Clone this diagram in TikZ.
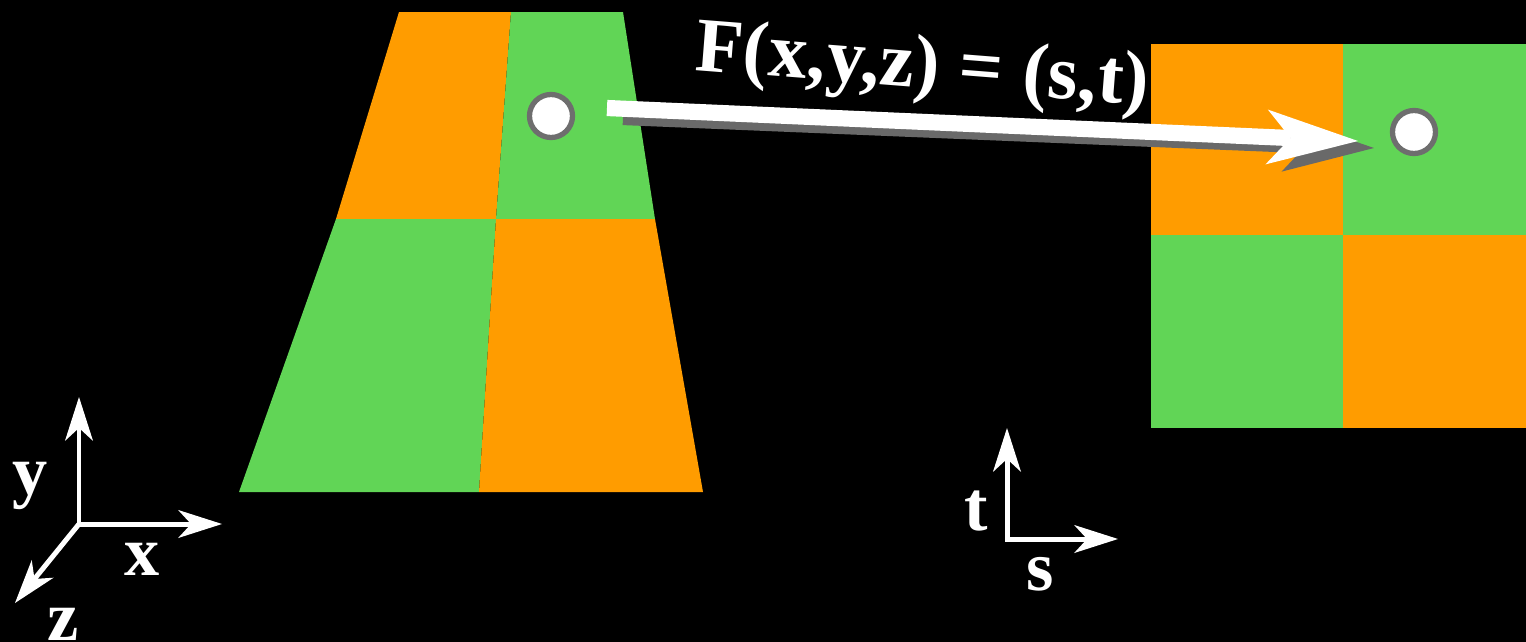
\documentclass[tikz,border=0pt]{standalone}
\usepackage{fontspec}
\setmainfont{Liberation Serif}
\usepackage{tikz}
\usetikzlibrary{arrows.meta, calc}

\definecolor{arancio}{RGB}{255,156,0}
\definecolor{verde}{RGB}{97,213,86}
\definecolor{anello}{RGB}{110,110,110}
\definecolor{ombra}{RGB}{105,105,105}

\tikzset{
  >={Stealth[length=12.5pt, width=8pt, inset=3.7pt, line width=0pt]},
  punto/.style={circle, draw=anello, fill=white, line width=1.5pt, minimum size=0.43cm, inner sep=0pt},
  asse/.style={draw=white, line width=1.42pt, line join=miter},
  etichetta/.style={text=white, font=\bfseries\fontsize{20}{24}\selectfont, inner sep=0pt, anchor=base},
  freccia/.style={line width=4.6pt, -{Stealth[length=26pt, width=15.6pt, inset=6.8pt, line width=0pt]}},
}

\begin{document}
\begin{tikzpicture}[x=0.01cm, y=-0.01cm]
        % sfondo
        \fill[black] (0,0) rectangle (1526,642);

        % vertici del trapezio
        \coordinate (TL) at (399,12);
        \coordinate (TM) at (511,12);
        \coordinate (TR) at (623,12);
        \coordinate (ML) at (336,219);
        \coordinate (MM) at (496,219);
        \coordinate (MR) at (655,219);
        \coordinate (BL) at (239,492);
        \coordinate (BM) at (479,492);
        \coordinate (BR) at (703,492);

        % scacchiera sul trapezio
        \fill[arancio] (TL) -- (TM) -- (MM) -- (ML) -- cycle;
        \fill[verde]   (TM) -- (TR) -- (MR) -- (MM) -- cycle;
        \fill[verde]   (ML) -- (MM) -- (BM) -- (BL) -- cycle;
        \fill[arancio] (MM) -- (MR) -- (BR) -- (BM) -- cycle;

        % scacchiera piana
        \coordinate (QTL) at (1151,44);
        \coordinate (QC)  at (1343,235);
        \coordinate (QBR) at (1526,428);
        \fill[arancio] (QTL) rectangle (QC);
        \fill[verde]   (QTL -| QC) rectangle (QC -| QBR);
        \fill[verde]   (QC -| QTL) rectangle (QBR -| QC);
        \fill[arancio] (QC) rectangle (QBR);

        % punti
        \node[punto] (P3d) at (551,116) {};
        \node[punto] (P2d) at (1414,132) {};

        % freccia con ombra
        \coordinate (Finizio) at (607,108);
        \coordinate (Ffine)   at (1358,141);
        \draw[freccia, ombra] ($(Finizio)+(16,9)$) -- ($(Ffine)+(16,7)$);
        \draw[freccia, white] (Finizio) -- (Ffine);

        % funzione
        \node[etichetta, font=\bfseries\fontsize{22}{26}\selectfont, rotate=-4.5] (Ftesto) at (921,88) {F(x,y,z) = (s,t)};

        % assi x y z
        \coordinate (O3)   at (79,524);
        \coordinate (Ypta) at (79,397);
        \coordinate (Xpta) at (222,524);
        \coordinate (Zpta) at (15,603);
        \draw[asse, <->] (Ypta) -- (O3) -- (Xpta);
        \draw[asse, ->]  (O3) -- (Zpta);
        \node[etichetta] (lx) at (142,575) {x};
        \node[etichetta] (ly) at (30,494)  {y};
        \node[etichetta] (lz) at (63,640)  {z};

        % assi s t
        \coordinate (O2)   at (1007,539);
        \coordinate (Tpta) at (1007,428);
        \coordinate (Spta) at (1118,539);
        \draw[asse, <->] (Tpta) -- (O2) -- (Spta);
        \node[etichetta] (lt) at (976,530)  {t};
        \node[etichetta] (ls) at (1040,590) {s};
\end{tikzpicture}
\end{document}
